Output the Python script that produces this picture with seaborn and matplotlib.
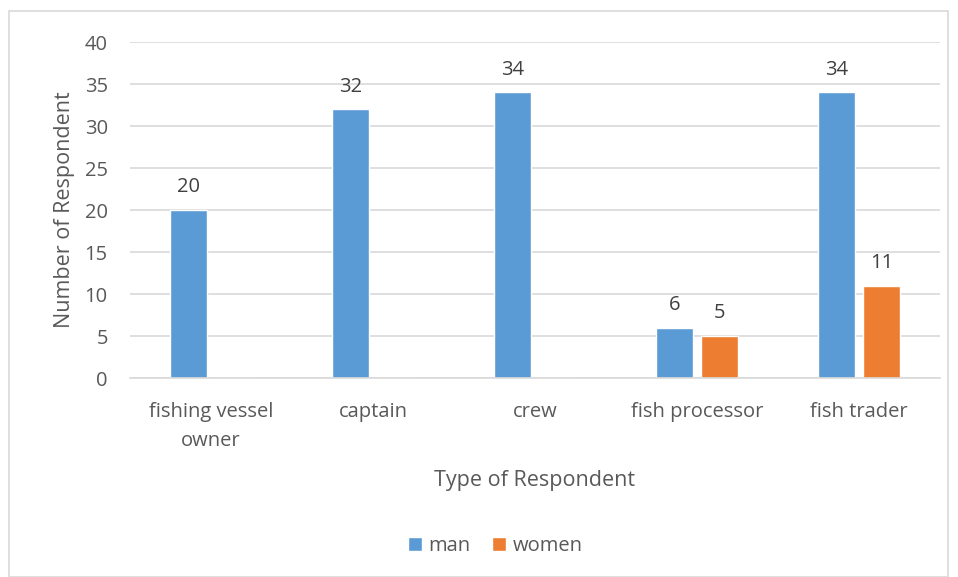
import matplotlib
matplotlib.use("Agg")
import matplotlib.pyplot as plt
import seaborn as sns
import pandas as pd
from matplotlib.patches import Rectangle

categories = ["fishing vessel\nowner", "captain", "crew", "fish processor", "fish trader"]
man = [20, 32, 34, 6, 34]
women = [0, 0, 0, 5, 11]
series = ["man", "women"]
colors = {"man": "#5B9BD5", "women": "#ED7D31"}

df = pd.DataFrame({
    "category": categories * 2,
    "count": man + women,
    "sex": ["man"] * len(categories) + ["women"] * len(categories),
})

sns.set_theme(style="white")
plt.rcParams["font.family"] = ["Open Sans", "DejaVu Sans"]
text_color = "#595959"

fig = plt.figure(figsize=(9.58, 5.77), dpi=100)
ax = fig.add_axes([130 / 958, 1 - 378 / 577, 810 / 958, 336 / 577])

sns.barplot(data=df, x="category", y="count", hue="sex", hue_order=series,
            palette=colors, width=0.56, gap=0.19, saturation=1,
            ax=ax, legend=True)

ax.set_ylim(0, 40)
ax.set_xlim(-0.5, len(categories) - 0.5)
ax.set_yticks(range(0, 41, 5))
ax.yaxis.grid(True, color="#D9D9D9", linewidth=1.2)
ax.set_axisbelow(True)
for s in ["top", "right", "left"]:
    ax.spines[s].set_visible(False)
ax.spines["bottom"].set_color("#D9D9D9")
ax.spines["bottom"].set_linewidth(1.2)
ax.tick_params(axis="both", length=0, labelsize=14.5, colors=text_color)
ax.tick_params(axis="y", pad=16)
ax.tick_params(axis="x", pad=17)
for lbl in ax.get_xticklabels():
    lbl.set_linespacing(1.6)
ax.set_xlabel("Type of Respondent", fontsize=15.5, color=text_color, labelpad=14)
ax.set_ylabel("Number of Respondent", fontsize=15.5, color=text_color, labelpad=7)

for container in ax.containers:
    labels = [f"{v:g}" if v > 0 else "" for v in container.datavalues]
    ax.bar_label(container, labels=labels, padding=9, fontsize=14.5, color="#404040")

handles, labels = ax.get_legend_handles_labels()
ax.legend_.remove()
fig.legend(handles, labels, loc="center", bbox_to_anchor=(495 / 958, 1 - 546 / 577),
           ncol=2, frameon=False, fontsize=14.5, handlelength=0.7, handleheight=0.7,
           handletextpad=0.3, columnspacing=1.1, labelcolor=text_color)

fig.patches.append(Rectangle((9 / 958, 0), 939 / 958, 1 - 11 / 577,
                             transform=fig.transFigure, fill=False,
                             edgecolor="#D9D9D9", linewidth=1.2))

fig.savefig("out.png", dpi=100, facecolor="white")
